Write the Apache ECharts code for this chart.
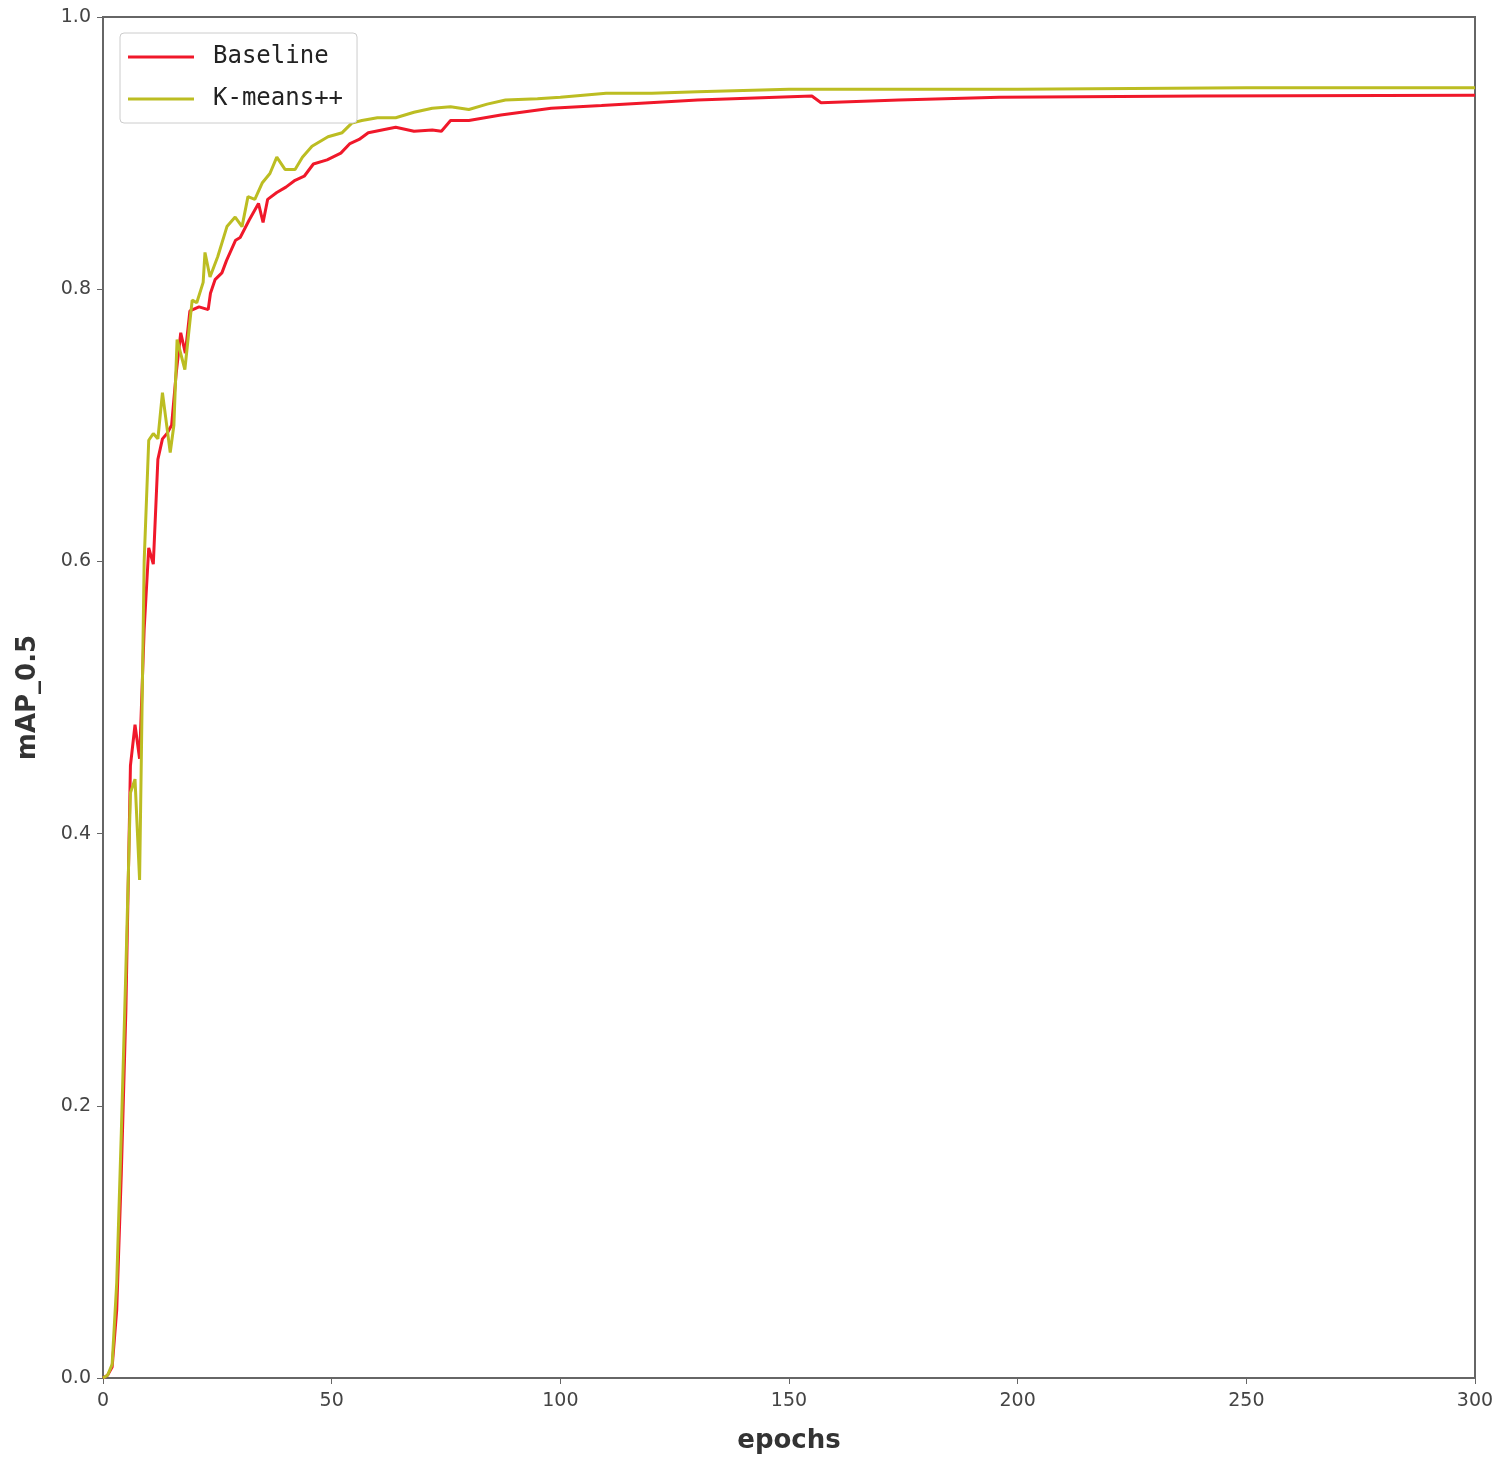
<!DOCTYPE html>
<html>
<head>
<meta charset="utf-8">
<script src="https://cdn.jsdelivr.net/npm/echarts@6/dist/echarts.min.js"></script>
<style>
  html, body { margin: 0; padding: 0; background: #fff; }
  #main { width: 1500px; height: 1465px; }
</style>
</head>
<body>
<div id="main"></div>
<script>
// epochs / values
var baselineEpochs = [0, 1, 2, 3, 4, 5, 6, 7, 8, 9, 10, 11, 12, 13, 14, 15, 16, 17, 18, 19, 21, 23, 23.5, 24.5, 26, 27, 29, 30, 32, 34, 35, 36, 38, 40, 42, 44, 46, 49, 52, 54, 56, 58, 61, 64, 68, 72, 74, 76, 80, 87, 98, 109, 130, 155, 157, 174, 196, 240, 300];
var baselineMap = [0, 0.002, 0.008, 0.05, 0.15, 0.27, 0.45, 0.48, 0.455, 0.55, 0.61, 0.598, 0.675, 0.69, 0.694, 0.70, 0.738, 0.768, 0.753, 0.784, 0.787, 0.785, 0.797, 0.807, 0.812, 0.821, 0.836, 0.838, 0.851, 0.863, 0.849, 0.866, 0.871, 0.875, 0.88, 0.883, 0.892, 0.895, 0.90, 0.907, 0.91, 0.915, 0.917, 0.919, 0.916, 0.917, 0.916, 0.924, 0.924, 0.928, 0.933, 0.935, 0.939, 0.942, 0.937, 0.939, 0.941, 0.942, 0.9425];

var kmeansEpochs = [0, 1, 2, 3, 4, 5, 6, 7, 8, 9, 10, 11, 12, 13, 14.7, 15.5, 16.2, 17.9, 19.5, 20.5, 21.9, 22.3, 23.4, 25.1, 27.1, 28.9, 30.4, 31.7, 33.2, 34.8, 36.5, 38, 39.8, 42, 43.6, 45.7, 49.2, 52.3, 54.4, 56.6, 60, 64, 68, 72, 76, 80, 84, 88, 95, 100, 110, 120, 130, 150, 175, 200, 250, 300];
var kmeansMap = [0, 0.002, 0.01, 0.07, 0.18, 0.30, 0.43, 0.44, 0.366, 0.60, 0.689, 0.694, 0.69, 0.724, 0.68, 0.70, 0.763, 0.741, 0.792, 0.79, 0.805, 0.827, 0.809, 0.824, 0.846, 0.853, 0.846, 0.868, 0.866, 0.878, 0.885, 0.897, 0.888, 0.888, 0.897, 0.905, 0.912, 0.915, 0.922, 0.924, 0.926, 0.926, 0.93, 0.933, 0.934, 0.932, 0.936, 0.939, 0.94, 0.941, 0.944, 0.944, 0.945, 0.947, 0.947, 0.947, 0.948, 0.948];

var seriesNames = ['Baseline', 'K-means++'];
var seriesColors = ['#f0182a', '#bcbd22'];

function pairs(xs, ys) {
  var out = [];
  for (var i = 0; i < xs.length; i++) out.push([xs[i], ys[i]]);
  return out;
}

var myChart = echarts.init(document.getElementById('main'));
var tickLabel = { color: '#444', fontSize: 19, fontFamily: 'DejaVu Sans', margin: 14 };
var options = {
  animation: false,
  backgroundColor: '#fff',
  grid: {
    left: 103, right: 25, top: 17, bottom: 87,
    show: true, borderColor: '#666', borderWidth: 2
  },
  legend: {
    left: 120, top: 33,
    orient: 'vertical',
    itemWidth: 66, itemHeight: 3, itemGap: 18,
    padding: [12, 14, 12, 8],
    borderColor: '#ccc', borderWidth: 1, borderRadius: 4,
    backgroundColor: '#fff',
    icon: 'rect',
    textStyle: { fontSize: 24, color: '#222', fontFamily: 'DejaVu Sans Mono', padding: [0, 0, 0, 14] },
    data: seriesNames
  },
  xAxis: {
    type: 'value', min: 0, max: 300, interval: 50,
    name: 'epochs', nameLocation: 'middle', nameGap: 50,
    nameTextStyle: { fontSize: 26, fontWeight: 'bold', color: '#333', fontFamily: 'DejaVu Sans' },
    axisLine: { show: true, lineStyle: { color: '#666', width: 2 } },
    axisTick: { show: true, length: 6, lineStyle: { color: '#666' } },
    axisLabel: tickLabel,
    splitLine: { show: false }
  },
  yAxis: {
    type: 'value', min: 0, max: 1, interval: 0.2,
    name: 'mAP_0.5', nameLocation: 'middle', nameGap: 62,
    nameTextStyle: { fontSize: 26, fontWeight: 'bold', color: '#333', fontFamily: 'DejaVu Sans' },
    axisLine: { show: true, lineStyle: { color: '#666', width: 2 } },
    axisTick: { show: true, length: 6, lineStyle: { color: '#666' } },
    axisLabel: Object.assign({}, tickLabel, {
      margin: 12,
      formatter: function (v) { return v.toFixed(1); }
    }),
    splitLine: { show: false }
  },
  series: [{
    name: seriesNames[0],
    type: 'line',
    showSymbol: false,
    color: seriesColors[0],
    lineStyle: { width: 3, color: seriesColors[0] },
    data: pairs(baselineEpochs, baselineMap)
  }, {
    name: seriesNames[1],
    type: 'line',
    showSymbol: false,
    color: seriesColors[1],
    lineStyle: { width: 3, color: seriesColors[1] },
    data: pairs(kmeansEpochs, kmeansMap)
  }]
};
myChart.setOption(options);
</script>
</body>
</html>
